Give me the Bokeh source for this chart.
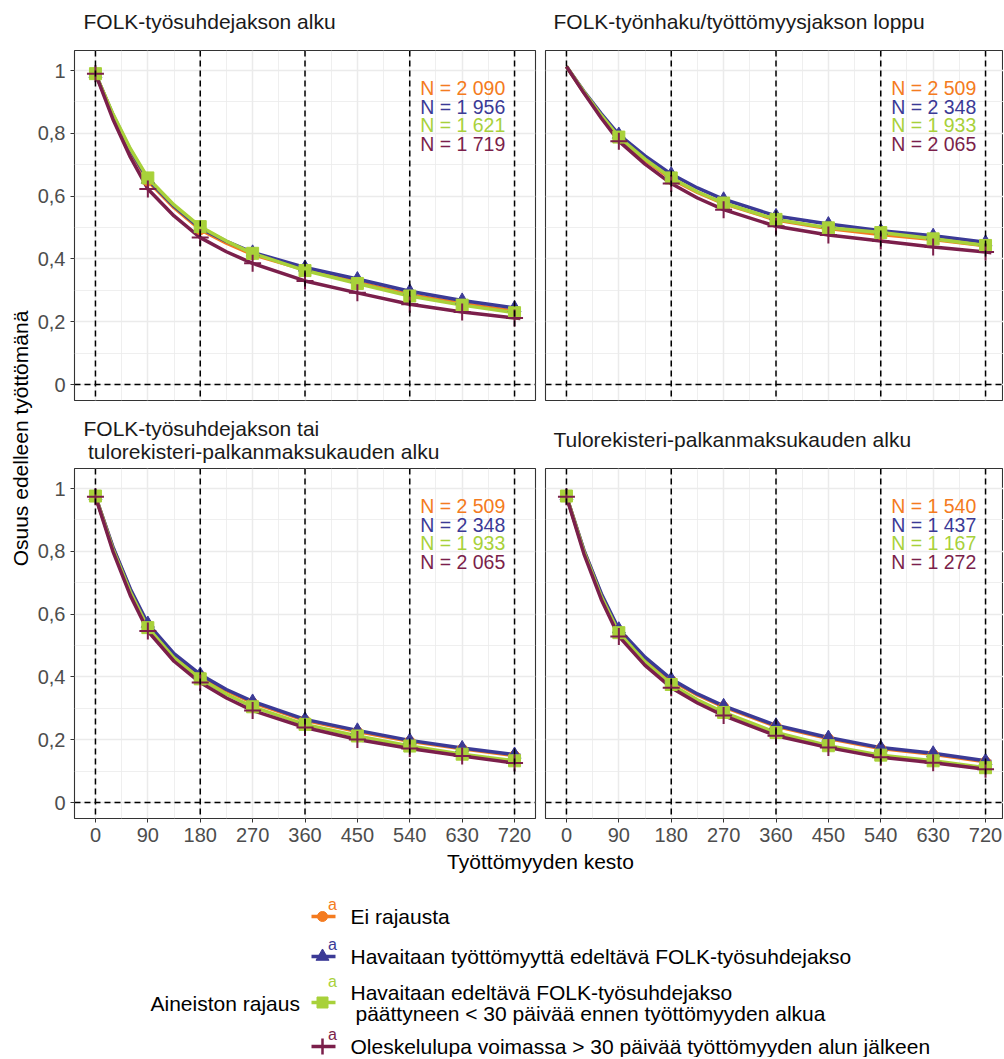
from bokeh.plotting import figure
from bokeh.models import Range1d, FixedTicker, Span
from bokeh.layouts import row, column
from bokeh.embed import file_html
from bokeh.resources import INLINE
from bokeh.core.properties import value

FONT = "Liberation Sans"

# ---------------- data ----------------
series_names = [
    "Ei rajausta",
    "Havaitaan työttömyyttä edeltävä FOLK-työsuhdejakso",
    "Havaitaan edeltävä FOLK-työsuhdejakso\n päättyneen < 30 päivää ennen työttömyyden alkua",
    "Oleskelulupa voimassa > 30 päivää työttömyyden alun jälkeen",
]
series_colors = ["#F47B20", "#3B3A96", "#A8D13A", "#7B1F4B"]
series_markers = ["circle", "triangle", "square", "cross"]

panel_titles = [
    "FOLK-työsuhdejakson alku",
    "FOLK-työnhaku/työttömyysjakson loppu",
    "FOLK-työsuhdejakson tai\n tulorekisteri-palkanmaksukauden alku",
    "Tulorekisteri-palkanmaksukauden alku",
]

point_days = [0, 90, 180, 270, 360, 450, 540, 630, 720]
point_days_p2 = [90, 180, 270, 360, 450, 540, 630, 720]
curve_days = [0, 30, 60, 90, 135, 180, 225, 270, 360, 450, 540, 630, 720, 730]

# Panel 1: FOLK-työsuhdejakson alku
p1_orange_pts = [0.990, 0.648, 0.493, 0.414, 0.365, 0.326, 0.286, 0.258, 0.234]
p1_blue_pts = [0.990, 0.653, 0.498, 0.421, 0.373, 0.336, 0.297, 0.268, 0.244]
p1_green_pts = [0.990, 0.658, 0.503, 0.418, 0.363, 0.322, 0.282, 0.253, 0.229]
p1_maroon_pts = [0.990, 0.623, 0.468, 0.386, 0.330, 0.292, 0.256, 0.231, 0.212]
p1_orange_curve = [0.990, 0.857, 0.744, 0.648, 0.563, 0.493, 0.450, 0.414, 0.365, 0.326, 0.286, 0.258, 0.234, 0.231]
p1_blue_curve = [0.990, 0.859, 0.747, 0.653, 0.568, 0.498, 0.456, 0.421, 0.373, 0.336, 0.297, 0.268, 0.244, 0.241]
p1_green_curve = [0.990, 0.862, 0.751, 0.658, 0.572, 0.503, 0.457, 0.418, 0.363, 0.322, 0.282, 0.253, 0.229, 0.226]
p1_maroon_curve = [0.990, 0.845, 0.724, 0.623, 0.537, 0.468, 0.423, 0.386, 0.330, 0.292, 0.256, 0.231, 0.212, 0.210]
p1_n = [2090, 1956, 1621, 1719]

# Panel 2: FOLK-työnhaku/työttömyysjakson loppu
p2_orange_pts = [0.785, 0.655, 0.576, 0.524, 0.497, 0.478, 0.462, 0.442]
p2_blue_pts = [0.796, 0.670, 0.590, 0.537, 0.511, 0.490, 0.474, 0.453]
p2_green_pts = [0.788, 0.658, 0.578, 0.526, 0.499, 0.484, 0.464, 0.443]
p2_maroon_pts = [0.775, 0.640, 0.557, 0.504, 0.476, 0.457, 0.438, 0.422]
p2_orange_curve = [1.013, 0.930, 0.855, 0.785, 0.715, 0.655, 0.612, 0.576, 0.524, 0.497, 0.478, 0.462, 0.442, 0.440]
p2_blue_curve = [1.013, 0.934, 0.862, 0.796, 0.728, 0.670, 0.626, 0.590, 0.537, 0.511, 0.490, 0.474, 0.453, 0.451]
p2_green_curve = [1.013, 0.932, 0.857, 0.788, 0.718, 0.658, 0.614, 0.578, 0.526, 0.499, 0.484, 0.464, 0.443, 0.441]
p2_maroon_curve = [1.013, 0.928, 0.848, 0.775, 0.702, 0.640, 0.594, 0.557, 0.504, 0.476, 0.457, 0.438, 0.422, 0.420]
p2_n = [2509, 2348, 1933, 2065]

# Panel 3: FOLK-työsuhdejakson tai tulorekisteri-palkanmaksukauden alku
p3_orange_pts = [0.976, 0.566, 0.404, 0.318, 0.262, 0.226, 0.195, 0.171, 0.150]
p3_blue_pts = [0.976, 0.570, 0.408, 0.322, 0.265, 0.230, 0.198, 0.174, 0.153]
p3_green_pts = [0.976, 0.557, 0.394, 0.305, 0.249, 0.212, 0.180, 0.154, 0.133]
p3_maroon_pts = [0.974, 0.546, 0.382, 0.293, 0.239, 0.201, 0.172, 0.148, 0.126]
p3_orange_curve = [0.976, 0.812, 0.677, 0.566, 0.470, 0.404, 0.356, 0.318, 0.262, 0.226, 0.195, 0.171, 0.150, 0.148]
p3_blue_curve = [0.976, 0.814, 0.680, 0.570, 0.474, 0.408, 0.360, 0.322, 0.265, 0.230, 0.198, 0.174, 0.153, 0.151]
p3_green_curve = [0.976, 0.807, 0.670, 0.557, 0.461, 0.394, 0.345, 0.305, 0.249, 0.212, 0.180, 0.154, 0.133, 0.131]
p3_maroon_curve = [0.974, 0.800, 0.659, 0.546, 0.450, 0.382, 0.333, 0.293, 0.239, 0.201, 0.172, 0.148, 0.126, 0.124]
p3_n = [2509, 2348, 1933, 2065]

# Panel 4: Tulorekisteri-palkanmaksukauden alku
p4_orange_pts = [0.976, 0.548, 0.389, 0.305, 0.243, 0.204, 0.172, 0.154, 0.130]
p4_blue_pts = [0.976, 0.552, 0.393, 0.308, 0.246, 0.207, 0.175, 0.157, 0.133]
p4_green_pts = [0.976, 0.541, 0.376, 0.287, 0.223, 0.181, 0.151, 0.133, 0.111]
p4_maroon_pts = [0.974, 0.529, 0.366, 0.277, 0.213, 0.175, 0.144, 0.127, 0.106]
p4_orange_curve = [0.976, 0.802, 0.661, 0.548, 0.459, 0.389, 0.343, 0.305, 0.243, 0.204, 0.172, 0.154, 0.130, 0.128]
p4_blue_curve = [0.976, 0.804, 0.665, 0.552, 0.463, 0.393, 0.346, 0.308, 0.246, 0.207, 0.175, 0.157, 0.133, 0.131]
p4_green_curve = [0.976, 0.799, 0.655, 0.541, 0.448, 0.376, 0.327, 0.287, 0.223, 0.181, 0.151, 0.133, 0.111, 0.109]
p4_maroon_curve = [0.974, 0.792, 0.646, 0.529, 0.437, 0.366, 0.317, 0.277, 0.213, 0.175, 0.144, 0.127, 0.106, 0.104]
p4_n = [1540, 1437, 1167, 1272]

x_ticks = [0, 90, 180, 270, 360, 450, 540, 630, 720]
x_minor = [45, 135, 225, 315, 405, 495, 585, 675]
y_ticks = [0, 0.2, 0.4, 0.6, 0.8, 1]
y_tick_labels = ["0", "0,2", "0,4", "0,6", "0,8", "1"]
y_minor = [0.1, 0.3, 0.5, 0.7, 0.9]
vline_days = [0, 180, 360, 540, 720]

x_title = "Työttömyyden kesto"
y_title = "Osuus edelleen työttömänä"
legend_title = "Aineiston rajaus"

# ---------------- helpers ----------------
TITLE_C = "#1A1A1A"
TICK_C = "#4D4D4D"
PX_PER_DAY = 461 / 792.0
YT_W = 34
LEFT_W, RIGHT_W = 506, 463
TOP_STRIP_H, TOP_PANEL_H = 48, 354
BOT_STRIP_H, BOT_PANEL_H = 64, 384


def fmt_n(n):
    return "N = " + f"{n:,}".replace(",", " ")


def blank(width, height):
    f = figure(width=width, height=height, x_range=Range1d(0, width),
               y_range=Range1d(height, 0), output_backend="svg",
               toolbar_location=None, x_axis_location=None, y_axis_location=None,
               min_border=0)
    f.grid.visible = False
    f.outline_line_color = None
    f.background_fill_color = "white"
    f.border_fill_color = "white"
    return f


def make_panel(pdays, pts, curves, ns, left, bottom):
    width = LEFT_W if left else RIGHT_W
    height = BOT_PANEL_H if bottom else TOP_PANEL_H
    if left:
        xr = Range1d(-36, 756)
    else:
        xr = Range1d(-36, -36 + 458 / PX_PER_DAY)
    yr = Range1d(-0.0507, 1.0637)
    p = figure(width=width, height=height, x_range=xr, y_range=yr,
               output_backend="svg", toolbar_location=None)
    p.min_border_left = 40 if left else 5
    p.min_border_right = 5 if left else 0
    p.min_border_top = 2
    p.min_border_bottom = 32 if bottom else 2
    p.background_fill_color = "white"
    p.border_fill_color = "white"
    p.outline_line_color = "#333333"
    p.outline_line_width = 1.1

    # grids
    p.xgrid.ticker = FixedTicker(ticks=x_ticks, minor_ticks=x_minor)
    p.ygrid.ticker = FixedTicker(ticks=y_ticks, minor_ticks=y_minor)
    for g in (p.xgrid, p.ygrid):
        g.grid_line_color = "#EBEBEB"
        g.grid_line_width = 1.5
        g.minor_grid_line_color = "#EBEBEB"
        g.minor_grid_line_width = 0.8

    # axes
    ax = p.xaxis[0]
    ax.ticker = FixedTicker(ticks=x_ticks)
    ax.axis_line_color = None
    ax.major_tick_line_color = "#333333"
    ax.major_tick_in = 0
    ax.major_tick_out = 4
    ax.minor_tick_line_color = None
    ax.major_label_text_font = FONT
    ax.major_label_text_font_size = "20px"
    ax.major_label_text_color = TICK_C
    ax.major_label_standoff = 5
    ax.visible = bottom

    ay = p.yaxis[0]
    ay.ticker = FixedTicker(ticks=y_ticks)
    ay.major_label_overrides = {t: l for t, l in zip(y_ticks, y_tick_labels)}
    ay.axis_line_color = None
    ay.major_tick_line_color = "#333333"
    ay.major_tick_in = 0
    ay.major_tick_out = 4
    ay.minor_tick_line_color = None
    ay.major_label_text_font = FONT
    ay.major_label_text_font_size = "20px"
    ay.major_label_text_color = TICK_C
    ay.major_label_standoff = 5
    ay.visible = left

    # curves
    for vals, col in zip(curves, series_colors):
        p.line(curve_days, vals, line_color=col, line_width=3.5, line_join="round")
    # points
    for vals, col, mk in zip(pts, series_colors, series_markers):
        if mk == "circle":
            p.scatter(pdays, vals, marker="circle", size=10, fill_color=col, line_color=col)
        elif mk == "triangle":
            p.scatter(pdays, vals, marker="triangle", size=13, fill_color=col, line_color=col)
        elif mk == "square":
            p.scatter(pdays, vals, marker="square", size=12, fill_color=col, line_color=col)
        else:
            p.scatter(pdays, vals, marker="cross", size=17, line_color=col, line_width=2)

    # reference lines
    for d in vline_days:
        p.add_layout(Span(location=d, dimension="height", line_color="black",
                          line_dash="6 4", line_width=1.5))
    p.add_layout(Span(location=0, dimension="width", line_color="black",
                      line_dash="6 4", line_width=1.5))

    # N labels
    p.text(x=[704] * 4, y=[0.945, 0.885, 0.825, 0.765], text=[fmt_n(n) for n in ns],
           text_color=series_colors, text_align="right", text_baseline="middle",
           text_font=value(FONT), text_font_size=value("19.5px"))
    return p


p1 = make_panel(point_days,
                [p1_orange_pts, p1_blue_pts, p1_green_pts, p1_maroon_pts],
                [p1_orange_curve, p1_blue_curve, p1_green_curve, p1_maroon_curve],
                p1_n, left=True, bottom=False)
p2 = make_panel(point_days_p2,
                [p2_orange_pts, p2_blue_pts, p2_green_pts, p2_maroon_pts],
                [p2_orange_curve, p2_blue_curve, p2_green_curve, p2_maroon_curve],
                p2_n, left=False, bottom=False)
p3 = make_panel(point_days,
                [p3_orange_pts, p3_blue_pts, p3_green_pts, p3_maroon_pts],
                [p3_orange_curve, p3_blue_curve, p3_green_curve, p3_maroon_curve],
                p3_n, left=True, bottom=True)
p4 = make_panel(point_days,
                [p4_orange_pts, p4_blue_pts, p4_green_pts, p4_maroon_pts],
                [p4_orange_curve, p4_blue_curve, p4_green_curve, p4_maroon_curve],
                p4_n, left=False, bottom=True)

# panel titles (facet strips)
t1 = blank(LEFT_W, TOP_STRIP_H)
t2 = blank(RIGHT_W, TOP_STRIP_H)
t3 = blank(LEFT_W, BOT_STRIP_H)
t4 = blank(RIGHT_W, BOT_STRIP_H)
left_x0 = 83 - YT_W
for s, title, x0, centers in [(t1, panel_titles[0], left_x0, [21]),
                              (t2, panel_titles[1], 13, [21]),
                              (t3, panel_titles[2], left_x0, [26, 48.5]),
                              (t4, panel_titles[3], 13, [37])]:
    for line, yc in zip(title.split("\n"), centers):
        indent = 4.5 if line.startswith(" ") else 0
        s.text(x=[x0 + indent], y=[yc], text=[line.strip()], text_align="left",
               text_baseline="middle", text_font=value(FONT),
               text_font_size=value("21px"), text_color=TITLE_C)

# y-axis title
ytf = blank(YT_W, TOP_STRIP_H + TOP_PANEL_H + BOT_STRIP_H + BOT_PANEL_H)
ytf.text(x=[20], y=[438], text=[y_title], angle=1.5707963, text_align="center",
         text_baseline="middle", text_font=value(FONT), text_font_size=value("21px"),
         text_color="black")

# bottom: x title + legend
bf = blank(1003, 207)
bf.text(x=[540], y=[11], text=[x_title], text_align="center", text_baseline="middle",
        text_font=value(FONT), text_font_size=value("21px"), text_color="black")
bf.text(x=[150], y=[153], text=[legend_title], text_align="left", text_baseline="middle",
        text_font=value(FONT), text_font_size=value("21px"), text_color="black")

key_y = [66, 106, 152, 196]
for name, col, mk, ky in zip(series_names, series_colors, series_markers, key_y):
    bf.line([311, 335], [ky, ky], line_color=col, line_width=3.5)
    if mk == "circle":
        bf.scatter([322], [ky], marker="circle", size=10, fill_color=col, line_color=col)
    elif mk == "triangle":
        bf.scatter([322], [ky], marker="triangle", size=13, fill_color=col, line_color=col)
    elif mk == "square":
        bf.scatter([322], [ky], marker="square", size=11, fill_color=col, line_color=col)
    else:
        bf.scatter([322], [ky], marker="cross", size=16, line_color=col, line_width=2.5)
    a_y = ky - 21 if mk == "square" else ky - 12
    bf.text(x=[332], y=[a_y], text=["a"], text_align="center", text_baseline="middle",
            text_font=value(FONT), text_font_size=value("16px"), text_color=col)
    lines = name.split("\n")
    line_ys = [ky] if len(lines) == 1 else [ky - 10.5, ky + 10.5]
    for line, ly in zip(lines, line_ys):
        indent = 5 if line.startswith(" ") else 0
        bf.text(x=[350 + indent], y=[ly], text=[line.strip()], text_align="left",
                text_baseline="middle", text_font=value(FONT),
                text_font_size=value("21px"), text_color="black")

layout = column(
    row(ytf, column(row(t1, t2), row(p1, p2), row(t3, t4), row(p3, p4))),
    bf,
)

open("out.html", "w").write(file_html(layout, INLINE))
